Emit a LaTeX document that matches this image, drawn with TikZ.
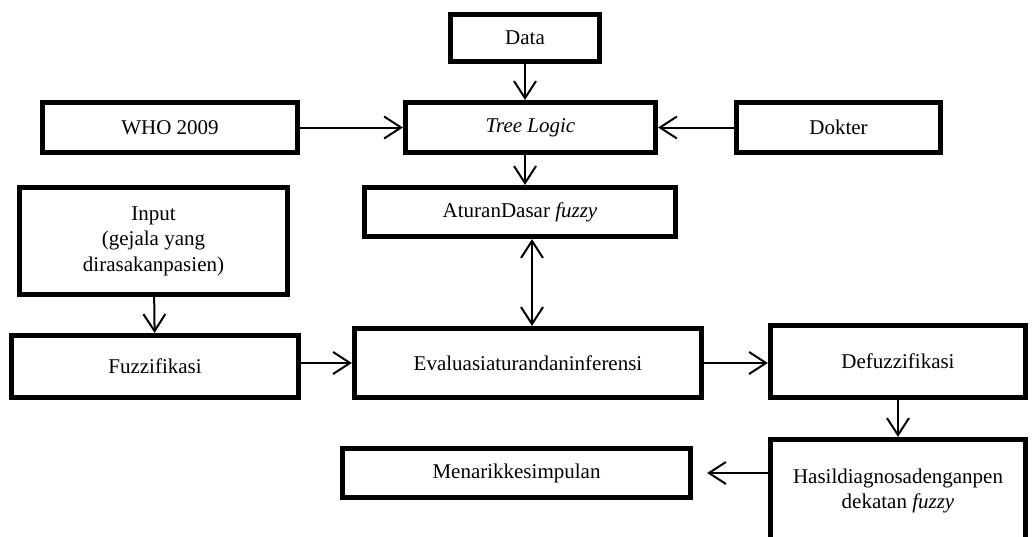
\documentclass[tikz,border=0pt]{standalone}
\usepackage{fontspec}
\setmainfont{Liberation Serif}
\usetikzlibrary{arrows.meta}

\begin{document}
\begin{tikzpicture}[x=.5pt,y=-.5pt,font=\fontsize{10.5}{12.8}\selectfont,
    >={Straight Barb[length=8.5pt,width=11pt,line width=1pt]},
    box/.style={draw,line width=2.6pt,align=center,inner sep=0pt},
    flow/.style={line width=1pt,->}]
    \useasboundingbox (0,0) rectangle (1033,536);
    % Kotak-kotak diagram, posisi dalam piksel gambar.
    \node[box,minimum width=74.5pt,minimum height=23.5pt] (data) at (525,38) {Data};
    \node[box,minimum width=125pt,minimum height=25pt] (tree) at (530.5,127.5) {\textit{Tree Logic}};
    \node[box,minimum width=127.5pt,minimum height=25pt] (who) at (170,127.5) {WHO 2009};
    \node[box,minimum width=102pt,minimum height=25pt] (dokter) at (838.5,127.5) {Dokter};
    \node[box,minimum width=155.5pt,minimum height=24.5pt] (aturan) at (520,212) {AturanDasar \textit{fuzzy}};
    \node[box,minimum width=134pt,minimum height=53.5pt] (input) at (153.5,241)
      {Input\\(gejala yang\\dirasakanpasien)};
    \node[box,minimum width=143.5pt,minimum height=31pt] (fuzz) at (155,366.5) {Fuzzifikasi};
    \node[box,minimum width=173.5pt,minimum height=34.5pt] (eval) at (528,363) {Evaluasiaturandaninferensi};
    \node[box,minimum width=127.5pt,minimum height=36pt] (defuzz) at (898,361.5) {Defuzzifikasi};
    \node[box,minimum width=127.5pt,minimum height=51.5pt] (hasil) at (898,491)
      {Hasildiagnosadenganpen\\dekatan \textit{fuzzy}};
    \node[box,minimum width=174pt,minimum height=24.5pt] (menarik) at (516.5,473) {Menarikkesimpulan};
    % Panah
    \draw[flow] (data) -- (tree.north -| data);
    \draw[flow] (tree.south -| data) -- (aturan.north -| data);
    \draw[flow] (who) -- (tree);
    \draw[flow] (dokter) -- (tree);
    \draw[flow,<->] ([xshift=6pt]aturan.south) -- ([xshift=2pt]eval.north);
    \draw[flow] (input) -- (fuzz);
    \draw[flow] (fuzz.east |- eval.west) -- (eval.west);
    \draw[flow] (eval.east) -- (defuzz.west |- eval.east);
    \draw[flow] (defuzz) -- (hasil);
    \draw[flow,shorten >=7pt] (hasil.west |- menarik.east) -- (menarik.east);
  \end{tikzpicture}
\end{document}
